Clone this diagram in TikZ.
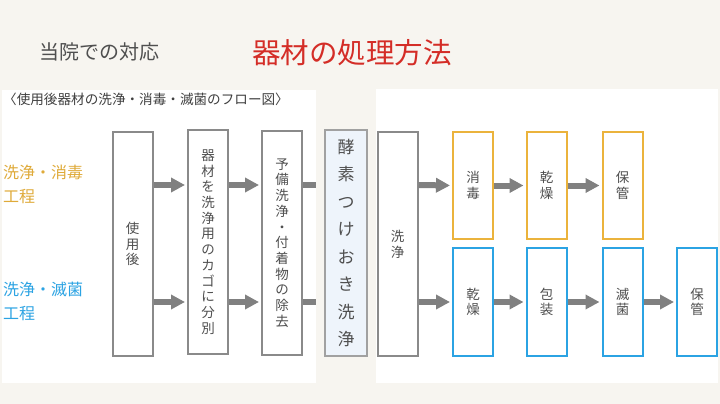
\documentclass[tikz,border=0pt]{standalone}
\usepackage{fontspec}
\setmainfont{Noto Sans CJK JP}
\usetikzlibrary{arrows.meta}

\definecolor{paper}{HTML}{F7F5F0}
\definecolor{boxgray}{HTML}{8A8A8A}
\definecolor{txtgray}{HTML}{4F4F4F}
\definecolor{arrowgray}{HTML}{808080}
\definecolor{dislineC}{HTML}{EBB33C}
\definecolor{sterlineC}{HTML}{2BA3E3}
\definecolor{titlered}{HTML}{D42D27}
\definecolor{soakfill}{HTML}{EEF4FB}

\begin{document}
\begin{tikzpicture}[x=1pt, y=-1pt,
    stepbox/.style={draw=boxgray, line width=2pt, fill=white, inner sep=0pt,
        minimum width=40pt, minimum height=224pt, align=center, text=txtgray,
        font=\fontsize{13.5}{15.7}\selectfont},
    disbox/.style={stepbox, draw=dislineC, minimum height=107pt},
    sterbox/.style={stepbox, draw=sterlineC, minimum height=108pt},
    flow/.style={draw=arrowgray, line width=6pt, -{Triangle[length=14pt,width=14pt]}, shorten >=2pt},
    stub/.style={draw=arrowgray, line width=6pt}
]

    % Background and panels
    \fill[paper] (0,0) rectangle (720,404);
    \useasboundingbox (0,0) rectangle (720,404);
    \fill[white] (2,90) rectangle (316,383);
    \fill[white] (376,89) rectangle (718,383);

    % Titles
    \node[text=txtgray, font=\fontsize{20}{20}\selectfont] (head) at (99,52) {当院での対応};
    \node[text=titlered, font=\fontsize{28.5}{28.5}\selectfont] (title) at (352,53) {器材の処理方法};
    \node[anchor=west, text=black!75, font=\fontsize{13.6}{13.6}\selectfont, inner sep=0pt] (sub) at (3,99)
        {〈使用後器材の洗浄・消毒・滅菌のフロー図〉};

    % Process labels
    \node[anchor=west, align=left, inner sep=0pt, text=dislineC!95!black,
        font=\fontsize{16}{24}\selectfont] (lblA) at (3,184) {洗浄・消毒\\工程};
    \node[anchor=west, align=left, inner sep=0pt, text=sterlineC,
        font=\fontsize{16}{24}\selectfont] (lblB) at (3,301) {洗浄・滅菌\\工程};

    % Common steps
    \node[stepbox] (use) at (132.5,244) {使\\用\\後};
    \node[stepbox] (sort) at (208,242) {器\\材\\を\\洗\\浄\\用\\の\\カ\\ゴ\\に\\分\\別};
    \node[stepbox] (prep) at (282,243) {予\\備\\洗\\浄\\・\\付\\着\\物\\の\\除\\去};
    \node[stepbox, fill=soakfill, draw=boxgray!80, line width=2.5pt, minimum width=42pt,
        minimum height=226pt, font=\fontsize{17}{27.5}\selectfont] (soak) at (346,243)
        {酵\\素\\つ\\け\\お\\き\\洗\\浄};
    \node[stepbox] (wash) at (397.5,244) {洗\\浄};

    % Disinfection line
    \node[disbox] (dis) at (473,185.5) {消\\毒};
    \node[disbox] (dryA) at (546.5,185.5) {乾\\燥};
    \node[disbox] (keepA) at (622.5,185.5) {保\\管};

    % Sterilization line
    \node[sterbox] (dryB) at (473,302) {乾\\燥};
    \node[sterbox] (pack) at (546.5,302) {包\\装};
    \node[sterbox] (ster) at (622.5,302) {滅\\菌};
    \node[sterbox] (keepB) at (697,302) {保\\管};

    % Rows
    \coordinate (up) at (0,185);
    \coordinate (dn) at (0,302);
    \coordinate (edge) at (316,0);

    % Arrows
    \draw[flow] (use.east |- up) -- (sort.west |- up);
    \draw[flow] (sort.east |- up) -- (prep.west |- up);
    \draw[stub] (prep.east |- up) -- (edge |- up);
    \draw[flow] (use.east |- dn) -- (sort.west |- dn);
    \draw[flow] (sort.east |- dn) -- (prep.west |- dn);
    \draw[stub] (prep.east |- dn) -- (edge |- dn);

    \draw[flow] (wash.east |- up) -- (dis.west);
    \draw[flow] (dis) -- (dryA);
    \draw[flow] (dryA) -- (keepA);
    \draw[flow] (wash.east |- dn) -- (dryB.west);
    \draw[flow] (dryB) -- (pack);
    \draw[flow] (pack) -- (ster);
    \draw[flow] (ster) -- (keepB);

\end{tikzpicture}
\end{document}
